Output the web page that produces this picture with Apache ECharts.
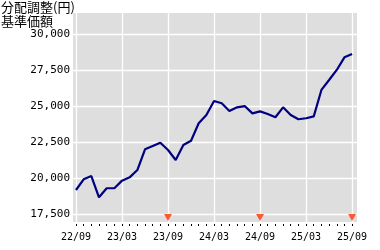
<!DOCTYPE html>
<html><head><meta charset="utf-8">
<script src="https://cdn.jsdelivr.net/npm/echarts@6/dist/echarts.min.js"></script>
<style>html,body{margin:0;padding:0;background:#fff}#c{width:380px;height:250px}</style>
</head><body><div id="c"></div>
<script>
// month index 0 = 22/09 ... 36 = 25/09
const tickLabels = ['22/09','23/03','23/09','24/03','24/09','25/03','25/09'];
const tickMonths = [0, 6, 12, 18, 24, 30, 36];
const navValues = [
  19170, 19910, 20140, 18660, 19290, 19290, 19820, 20050, 20560, 22000,
  22230, 22460, 21950, 21260, 22300, 22600, 23810, 24390, 25360, 25200,
  24660, 24920, 25010, 24500, 24640, 24460, 24230, 24920, 24390, 24090,
  24160, 24290, 26130, 26820, 27520, 28400, 28630
];
const dividendMonths = [12, 24, 36];
const dividendMarkerLevel = 17257;
const yTicks = [17500, 20000, 22500, 25000, 27500, 30000];
const monthTicks = [];
for (let i = 0; i <= 36; i++) monthTicks.push(i);

const xMin = -0.39, xMax = 36.64;
const yMin = 16944, yMax = 31482;

const chart = echarts.init(document.getElementById('c'), null, {renderer: 'canvas'});
chart.setOption({
  animation: false,
  title: {
    text: '分配調整(円)\n基準価額',
    left: 1, top: 0, padding: 0,
    textStyle: {fontFamily: 'Noto Sans CJK JP', fontSize: 13, lineHeight: 14, fontWeight: 'normal', color: '#000'}
  },
  grid: {left: 73, top: 13, width: 284, height: 209, show: true, backgroundColor: '#dedede', borderWidth: 0},
  xAxis: [{
    type: 'value', min: xMin, max: xMax,
    axisLine: {show: false},
    axisTick: {show: false, customValues: tickMonths},
    axisLabel: {
      customValues: tickMonths, margin: 10,
      fontFamily: 'DejaVu Sans Mono', fontSize: 10, color: '#000',
      formatter: v => tickLabels[tickMonths.indexOf(v)]
    },
    splitLine: {show: true, lineStyle: {color: '#ffffff', width: 1.3}}
  }, {
    type: 'value', min: xMin, max: xMax, position: 'bottom', offset: 2,
    axisLine: {show: false},
    axisTick: {show: true, customValues: monthTicks, length: 2, lineStyle: {color: '#000', width: 1}},
    axisLabel: {show: false},
    splitLine: {show: false}
  }],
  yAxis: {
    type: 'value', min: yMin, max: yMax,
    axisLine: {show: false},
    axisTick: {show: false, customValues: yTicks},
    axisLabel: {
      customValues: yTicks, margin: 3,
      fontFamily: 'DejaVu Sans Mono', fontSize: 11, color: '#000',
      formatter: v => v.toLocaleString('en-US')
    },
    splitLine: {show: true, lineStyle: {color: '#ffffff', width: 1.3}}
  },
  series: [{
    type: 'line', xAxisIndex: 0,
    data: navValues.map((v, i) => [i, v]),
    symbol: 'none',
    lineStyle: {color: '#000080', width: 2.2},
    z: 3
  }, {
    type: 'scatter', xAxisIndex: 0,
    data: dividendMonths.map(m => [m, dividendMarkerLevel]),
    symbol: 'triangle', symbolRotate: 180, symbolSize: [8, 7],
    itemStyle: {color: '#ff3300'},
    z: 4
  }]
});
</script>
</body></html>
